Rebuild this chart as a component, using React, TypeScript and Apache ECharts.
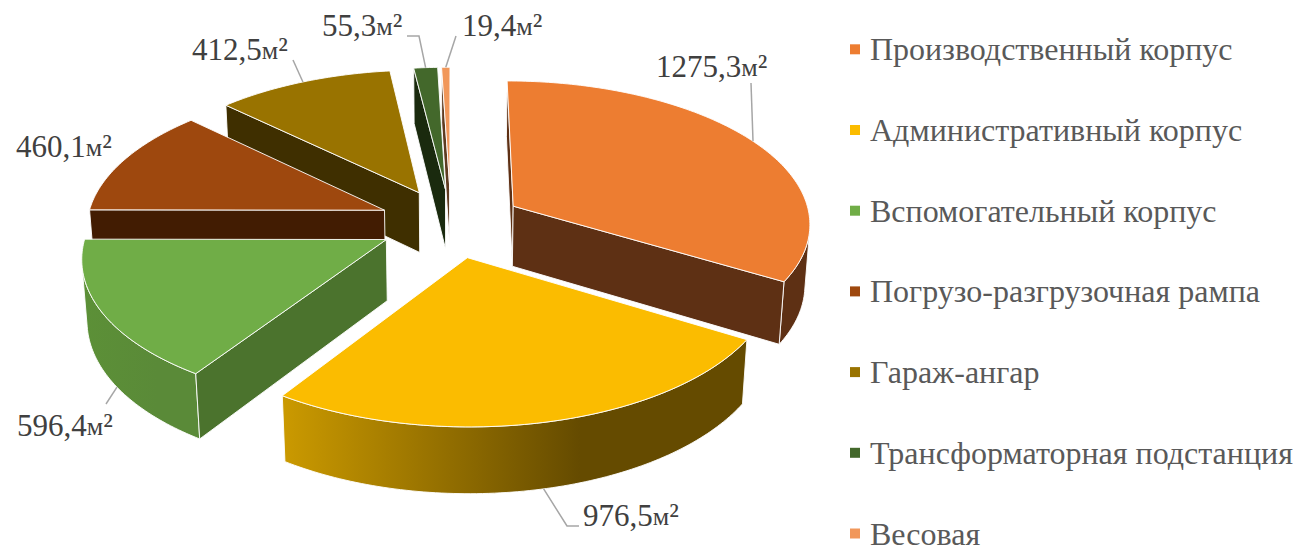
import React, { useEffect, useRef } from "react";
import * as echarts from "echarts";

// ---- data ----
const names = [
  "Производственный корпус",
  "Административный корпус",
  "Вспомогательный корпус",
  "Погрузо-разгрузочная рампа",
  "Гараж-ангар",
  "Трансформаторная подстанция",
  "Весовая",
];
const areas = [1275.3, 976.5, 596.4, 460.1, 412.5, 55.3, 19.4];
const valueLabels = ["1275,3", "976,5", "596,4", "460,1", "412,5", "55,3", "19,4"];

// ---- styles ----
const topColors = ["#ed7d31", "#fbbc00", "#70ad47", "#9e480e", "#997300", "#43682b", "#f1975a"];
const cutColors = ["#5e3014", "#6a5000", "#4b732d", "#421c02", "#3f2f00", "#1a2a0e", "#5f3b20"];
const wallLight = ["#5e3014", "#cb9a00", "#5c9037", "#421c02", "#3f2f00", "#1a2a0e", "#5f3b20"];
const wallDark = ["#5e3014", "#654b00", "#5a8a38", "#421c02", "#3f2f00", "#1a2a0e", "#5f3b20"];

// ---- layout (3D pie camera and label placement) ----
const CX = 451;
const CY = 223;
const RADIUS = 298;
const SIN_ELEV = 0.478;
const COS_ELEV = Math.sqrt(1 - SIN_ELEV * SIN_ELEV);
const PERSPECTIVE = 0.125;
const DEPTH = 0.235;
const EXPLODE = 0.243;
const labelAnchors = [
  [656, 77],
  [583, 526],
  [17, 436],
  [16, 157],
  [192, 60],
  [322, 36],
  [462, 36],
];
const leaderElbows: number[][][] = [
  [[751, 83]],
  [[567, 526], [579, 526]],
  [[106, 404]],
  [],
  [[293, 60]],
  [[419, 36], [407, 36]],
  [[456, 36]],
];
const leaderFraction = [0.5, 0.5, 0.42, 0.5, 0.5, 0.5, 0.5];
const paintOrder = [6, 5, 4, 3, 0, 2, 1];
const leaderOnWallBottom = [false, true, true, false, false, false, false];

const total = areas.reduce((a, b) => a + b, 0);
const RAD = Math.PI / 180;

function project(X: number, Y: number, Z: number): number[] {
  const v = Y * SIN_ELEV - Z * COS_ELEV;
  const w = Y * COS_ELEV + Z * SIN_ELEV;
  const s = 1 / (1 - PERSPECTIVE * w);
  return [CX + RADIUS * X * s, CY + RADIUS * v * s];
}

function shoelace(p: number[][]): number {
  let a = 0;
  for (let i = 0; i < p.length; i++) {
    const q = p[(i + 1) % p.length];
    a += p[i][0] * q[1] - q[0] * p[i][1];
  }
  return a;
}

function makeRenderItem(index: number) {
  return (_params: any, api: any) => {
    const value = api.value(0);
    let before = 0;
    for (let i = 0; i < index; i++) before += areas[i];
    const start = (before / total) * 360;
    const sweep = (value / total) * 360;
    const mid = start + sweep / 2;
    const ox = EXPLODE * Math.sin(mid * RAD);
    const oy = -EXPLODE * Math.cos(mid * RAD);
    const top = (deg: number, z: number) =>
      project(ox + Math.sin(deg * RAD), oy - Math.cos(deg * RAD), z);
    const apexTop = project(ox, oy, 0);
    const apexBot = project(ox, oy, -DEPTH);
    const n = Math.max(2, Math.ceil(sweep));
    const angles: number[] = [];
    for (let i = 0; i <= n; i++) angles.push(start + (sweep * i) / n);

    const children: any[] = [];
    const stroke = { stroke: "rgba(255,255,255,0.9)", lineWidth: 1, lineJoin: "round" };

    // rounded outer wall: only the run that faces the viewer
    const run: number[] = [];
    for (let i = 0; i < n; i++) {
      const q = [top(angles[i], 0), top(angles[i + 1], 0), top(angles[i + 1], -DEPTH), top(angles[i], -DEPTH)];
      if (shoelace(q) < 0) {
        if (!run.length) run.push(i);
        run.push(i + 1);
      }
    }
    if (run.length > 1) {
      const upper = run.map((i) => top(angles[i], 0));
      const lower = run.map((i) => top(angles[i], -DEPTH)).reverse();
      const pts = upper.concat(lower);
      const xs = pts.map((p) => p[0]);
      const x0 = Math.min(...xs);
      const x1 = Math.max(...xs);
      children.push({
        type: "polygon",
        shape: { points: pts },
        style: {
          fill: new echarts.graphic.LinearGradient(
            x0, 0, x1, 0,
            [
              { offset: 0, color: wallLight[index] },
              { offset: 0.64, color: wallDark[index] },
              { offset: 1, color: wallDark[index] },
            ],
            true
          ),
          ...stroke,
        },
      });
    }

    // the two radial cut faces
    const cutA = [apexTop, top(start, 0), top(start, -DEPTH), apexBot];
    const cutB = [top(start + sweep, 0), apexTop, apexBot, top(start + sweep, -DEPTH)];
    [cutA, cutB].forEach((q) => {
      if (shoelace(q) < 0) {
        children.push({
          type: "polygon",
          shape: { points: q },
          style: { fill: cutColors[index], ...stroke },
        });
      }
    });

    // top face
    children.push({
      type: "polygon",
      shape: { points: [apexTop].concat(angles.map((a) => top(a, 0))) },
      style: { fill: topColors[index], ...stroke },
    });

    // leader line from the rim of the slice
    const elbows = leaderElbows[index];
    if (elbows.length) {
      const from = top(start + sweep * leaderFraction[index], leaderOnWallBottom[index] ? -DEPTH : 0);
      children.push({
        type: "polyline",
        shape: { points: [from].concat(elbows) },
        style: { fill: "none", stroke: "#a6a6a6", lineWidth: 1.5 },
      });
    }

    // value label
    const [lx, ly] = labelAnchors[index];
    children.push({
      type: "text",
      x: lx,
      y: ly + 4.5,
      style: {
        text: `{v|${valueLabels[index]}}{m|м}{s|²}`,
        verticalAlign: "bottom",
        align: "left",
        rich: {
          v: { fontFamily: "Liberation Serif", fontSize: 31, fill: "#404040", lineHeight: 31, height: 31, verticalAlign: "bottom" },
          m: { fontFamily: "Liberation Serif", fontSize: 26, fill: "#404040", lineHeight: 31, height: 27.6, verticalAlign: "bottom" },
          s: { fontFamily: "Liberation Serif", fontSize: 32, fill: "#404040", lineHeight: 31, height: 31.7, verticalAlign: "bottom" },
        },
      },
    });

    return { type: "group", children };
  };
}

export default function App() {
  const ref = useRef<HTMLDivElement>(null);
  useEffect(() => {
    const chart = echarts.init(ref.current!, null, { renderer: "svg" });
    chart.setOption({
      animation: false,
      backgroundColor: "#ffffff",
      legend: {
        orient: "vertical",
        left: 850,
        top: 29.8,
        height: 700,
        padding: 0,
        itemWidth: 10,
        itemHeight: 10,
        itemGap: 41.7,
        icon: "rect",
        selectedMode: false,
        data: names,
        textStyle: {
          fontFamily: "Liberation Serif",
          fontSize: 32,
          color: "#595959",
          lineHeight: 36,
          padding: [3, 0, 0, 5],
        },
      },
      series: paintOrder.map((i) => ({
        type: "custom",
        name: names[i],
        coordinateSystem: "none",
        silent: true,
        itemStyle: { color: topColors[i] },
        data: [[areas[i]]],
        renderItem: makeRenderItem(i),
      })),
    });
    return () => chart.dispose();
  }, []);
  return (
    <div
      ref={ref}
      style={{ position: "absolute", left: 0, top: 0, width: 1299, height: 548 }}
    />
  );
}
